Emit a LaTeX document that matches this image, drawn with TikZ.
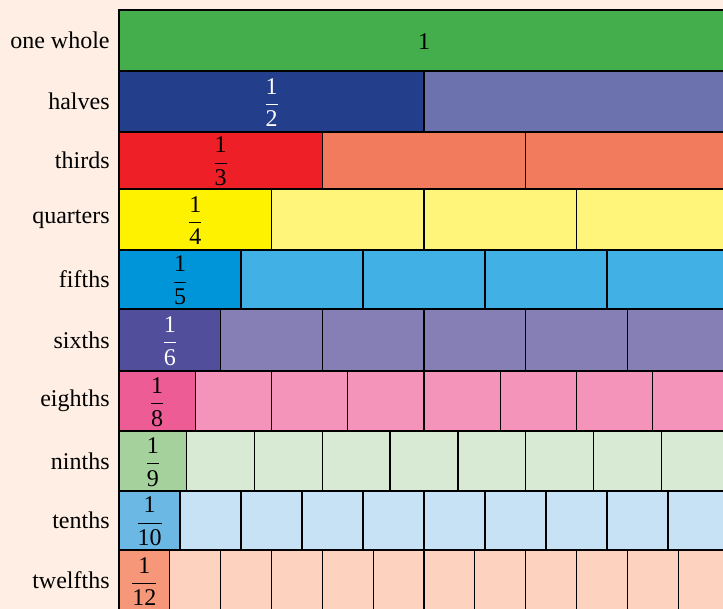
\documentclass[tikz,border=0pt]{standalone}
\usepackage{amsmath}
\usepackage{fontspec}
\setmainfont{Liberation Serif}
\definecolor{bg}{HTML}{FEEEE3}
\definecolor{d1}{HTML}{43AE4B}\definecolor{l1}{HTML}{43AE4B}
\definecolor{d2}{HTML}{233F8C}\definecolor{l2}{HTML}{6B72AD}
\definecolor{d3}{HTML}{EE1F27}\definecolor{l3}{HTML}{F37B5D}
\definecolor{d4}{HTML}{FFF200}\definecolor{l4}{HTML}{FFF57A}
\definecolor{d5}{HTML}{0095D9}\definecolor{l5}{HTML}{41B0E4}
\definecolor{d6}{HTML}{514E9C}\definecolor{l6}{HTML}{857FB6}
\definecolor{d7}{HTML}{EE5C96}\definecolor{l7}{HTML}{F494BA}
\definecolor{d8}{HTML}{A5D29C}\definecolor{l8}{HTML}{D9EAD4}
\definecolor{d9}{HTML}{6AB8E3}\definecolor{l9}{HTML}{C6E2F4}
\definecolor{d10}{HTML}{F7977A}\definecolor{l10}{HTML}{FDD3BF}
\newcommand{\myfr}[2]{$\genfrac{}{}{0.55pt}{0}{\mbox{#1}}{\mbox{#2}}$}
\begin{document}
\begin{tikzpicture}[x=0.5pt,y=-0.5pt,
  seg/.style={draw=black, line width=0.65pt},
  lbl/.style={anchor=east, inner sep=0pt, font=\fontsize{12}{14}\selectfont},
  frc/.style={inner sep=0pt, font=\fontsize{12}{14}\selectfont}]
\fill[bg] (0,0) rectangle (723,609);
\useasboundingbox (0,0) rectangle (723,609);
\clip (0,0) rectangle (723,609);
\foreach \name/\n/\ya/\yb/\tc/\ft [count=\i] in {
  one whole/1/10/71/black/1,
  halves/2/71/132/white/\myfr{1}{2},
  thirds/3/132/189/black/\myfr{1}{3},
  quarters/4/189/250/black/\myfr{1}{4},
  fifths/5/250/309/black/\myfr{1}{5},
  sixths/6/309/371/white/\myfr{1}{6},
  eighths/8/371/431/black/\myfr{1}{8},
  ninths/9/431/491/black/\myfr{1}{9},
  tenths/10/491/550/black/\myfr{1}{10},
  twelfths/12/550/611/black/\myfr{1}{12}}{
  \pgfmathsetmacro\w{610/\n}
  \foreach \k in {1,...,\n}{
    \ifnum\k=1 \def\cc{d\i}\else\def\cc{l\i}\fi
    \path[seg, fill=\cc] ({119+(\k-1)*\w},\ya) rectangle ({119+\k*\w},\yb);
  }
  \node[lbl] (lab\i) at (110,{(\ya+\yb)/2}) {\name};
  \node[frc, text=\tc] (f\i) at ({119+\w/2},{(\ya+\yb)/2+1}) {\ft};
}
\end{tikzpicture}
\end{document}
